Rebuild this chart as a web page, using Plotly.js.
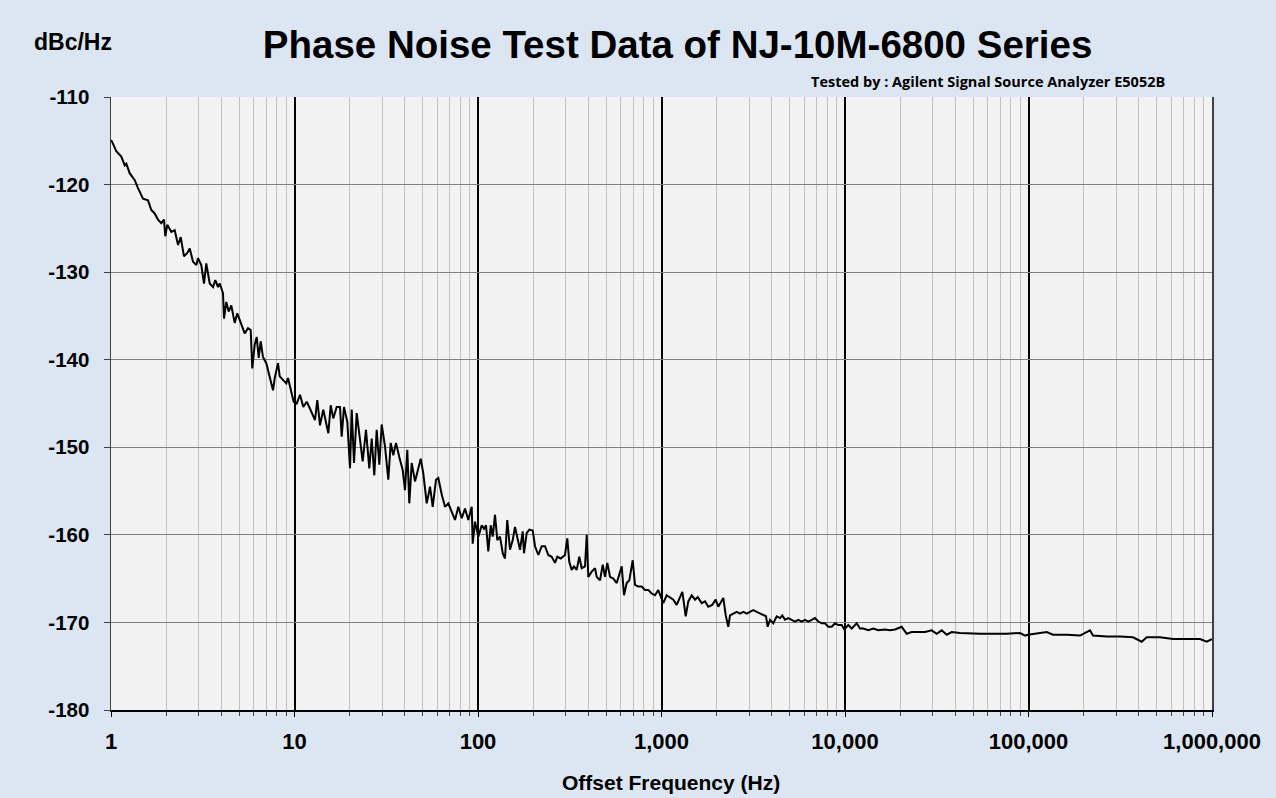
<!DOCTYPE html>
<html>
<head>
<meta charset="utf-8">
<script src="https://cdn.plot.ly/plotly-3.0.1.min.js"></script>
<style>
  html, body { margin: 0; padding: 0; background: #dce6f2; }
  #chart { width: 1276px; height: 798px; }
</style>
</head>
<body>
<div id="chart"></div>
<script>
// Offset frequency (Hz)
const offsetFreqHz = [
  1.0, 1.013, 1.069, 1.138, 1.188, 1.212, 1.264, 1.347, 1.403, 1.494, 1.591, 1.658, 1.730, 1.804, 1.880, 1.945, 1.976,
  2.026, 2.131, 2.224, 2.318, 2.398, 2.500, 2.605, 2.685, 2.799, 2.917, 2.979, 3.105, 3.212, 3.306, 3.451, 3.597,
  3.702, 3.830, 3.912, 4.077, 4.128, 4.249, 4.379, 4.524, 4.721, 4.878, 5.130, 5.354, 5.580, 5.772, 5.888, 6.068,
  6.223, 6.381, 6.544, 6.735, 7.020, 7.327, 7.636, 7.801, 8.130, 8.305, 8.659, 9.022, 9.218, 9.535,
  9.90, 10.28, 10.71, 11.17, 11.66, 12.15, 12.93, 13.31, 13.77, 14.35, 15.29, 15.75, 16.27, 16.98, 17.70, 18.08,
  18.61, 19.40, 20.07, 20.50, 21.10, 21.83, 22.75, 23.53, 24.52, 25.56, 26.35, 27.22, 28.05, 28.98, 29.87, 31.13,
  32.45, 33.44, 34.54, 35.73, 37.24, 38.87, 40.01, 41.18, 42.23, 43.52, 45.37, 47.29, 48.74, 50.35, 52.54, 54.77,
  56.65, 59.04, 60.78, 63.43, 66.11, 68.90, 71.92, 74.94, 78.11, 81.51, 84.96, 88.55, 92.42,
  93.57, 96.31, 100.4, 104.8, 107.8, 110.6, 113.8, 117.3, 120.3, 123.8, 127.4, 131.8, 136.4, 140.3, 144.4, 149.4,
  154.6, 159.1, 163.8, 169.4, 175.3, 178.1, 184.2, 190.4, 198.7, 204.5, 213.2, 222.4, 231.8, 241.6, 252.1, 262.8,
  270.5, 282.3, 297.9, 306.6, 314.4, 324.0, 333.6, 345.1, 356.5, 367.4, 383.0, 391.3, 399.2, 416.6, 434.2, 443.6,
  462.4, 478.3, 492.3, 506.7, 524.2, 546.4, 570.2, 588.8, 607.0, 624.8, 646.3, 667.7, 696.7, 717.2, 747.5, 780.1,
  813.0, 847.4, 884.3, 921.7, 960.7, 993.8,
  1023, 1067, 1113, 1160, 1210, 1261, 1299, 1355, 1400, 1461, 1523, 1575, 1656, 1727, 1799, 1891, 1974, 2039,
  2110, 2172, 2239, 2312, 2362, 2462, 2569, 2678, 2792, 2913, 3036, 3164, 3303, 3442, 3588, 3711, 3791, 3902,
  4067, 4245, 4425, 4554, 4710, 4909, 5122, 5340, 5566, 5808, 6053, 6310, 6583, 6862, 7153, 7464, 7780, 8110,
  8463, 8822, 9195, 9594, 9913,
  10420, 10880, 11580, 12070, 12580, 13400, 14270, 15190, 16520, 17590, 18730, 20370, 21690, 23100, 25090, 27290,
  29690, 31600, 33650, 35830, 38150, 42340, 54410, 64060, 76060, 89880, 95700, 99380,
  125700, 136000, 161500, 190900, 216300, 224600, 266800, 315100, 371100, 414000, 440700, 520800, 613200, 728000,
  860300, 935700, 975200, 1000000
];

// Phase noise (dBc/Hz)
const phaseNoiseDbc = [
  -114.9, -115.1, -116.2, -116.8, -117.8, -117.6, -118.7, -119.5, -120.4, -121.6, -121.8, -122.9, -123.3, -124.0, -124.4, -124.0, -125.9,
  -124.6, -125.4, -125.2, -126.9, -126.0, -128.2, -127.8, -127.3, -128.8, -129.2, -128.4, -129.2, -131.3, -129.0, -131.3, -131.7,
  -130.9, -131.7, -131.3, -132.4, -135.3, -133.4, -134.5, -133.8, -135.8, -134.7, -136.0, -137.0, -136.4, -136.6, -141.0, -138.3,
  -137.4, -139.8, -137.9, -139.7, -140.4, -141.9, -143.5, -142.1, -140.4, -141.9, -142.3, -142.7, -142.1, -143.3,
  -144.8, -145.0, -144.0, -145.4, -144.8, -145.6, -146.9, -144.6, -147.5, -145.7, -148.4, -145.2, -146.7, -145.4, -145.4, -148.8,
  -145.4, -147.1, -152.4, -145.7, -151.8, -146.1, -149.0, -151.6, -148.0, -152.4, -149.0, -153.2, -148.0, -152.0, -147.4, -149.9,
  -153.7, -149.5, -150.9, -149.5, -151.1, -152.6, -154.9, -150.3, -156.4, -151.8, -153.9, -152.2, -151.3, -153.0, -156.4, -154.5,
  -156.8, -153.7, -153.5, -155.4, -156.8, -156.4, -157.5, -158.3, -156.8, -158.1, -157.0, -158.3, -156.8,
  -161.0, -158.5, -160.2, -158.9, -159.3, -158.9, -161.9, -158.9, -160.2, -157.7, -160.6, -160.2, -162.1, -162.7, -158.3, -161.7,
  -160.6, -159.1, -160.2, -161.7, -159.6, -162.1, -159.8, -159.4, -159.5, -161.3, -162.3, -161.3, -161.3, -162.3, -162.5, -163.2,
  -162.5, -162.7, -162.3, -160.4, -163.1, -164.0, -163.6, -164.0, -162.5, -163.8, -163.6, -160.0, -164.8, -164.2, -163.8, -164.8,
  -165.2, -163.4, -164.8, -163.2, -164.8, -165.0, -165.5, -164.4, -163.6, -166.9, -165.5, -165.2, -162.9, -165.7, -165.9, -165.9,
  -166.3, -166.3, -166.7, -166.9, -166.3, -167.1,
  -167.8, -166.9, -167.2, -167.4, -168.0, -167.2, -166.5, -169.3, -167.6, -166.9, -167.4, -167.1, -167.8, -167.6, -168.2, -168.0, -167.4, -168.2,
  -167.6, -167.2, -169.2, -170.5, -169.2, -169.0, -168.8, -169.0, -168.8, -169.0, -168.8, -168.6, -168.8, -169.0, -169.2, -169.3, -170.5, -169.7,
  -170.1, -169.3, -169.5, -169.2, -169.7, -169.5, -169.7, -169.9, -169.7, -169.9, -169.7, -169.9, -169.7, -169.5, -169.9, -170.1, -170.1, -170.5,
  -170.5, -170.1, -170.3, -170.3, -170.8,
  -170.3, -170.7, -170.1, -170.7, -170.7, -170.9, -170.7, -170.9, -170.8, -170.9, -170.8, -170.5, -171.3, -171.1, -171.1, -171.1,
  -170.9, -171.3, -170.9, -171.4, -171.1, -171.2, -171.3, -171.3, -171.3, -171.2, -171.5, -171.4,
  -171.1, -171.4, -171.4, -171.5, -170.9, -171.5, -171.6, -171.6, -171.7, -172.2, -171.7, -171.7, -171.9, -171.9,
  -171.9, -172.2, -172.0, -171.9
];

const xTickVals = [1, 10, 100, 1000, 10000, 100000, 1000000];
const xTickText = ['1', '10', '100', '1,000', '10,000', '100,000', '1,000,000'];
const yTickVals = [-180, -170, -160, -150, -140, -130, -120, -110];
const yTickText = ['-180', '-170', '-160', '-150', '-140', '-130', '-120', '-110'];

const chartTitle = 'Phase Noise Test Data of NJ-10M-6800 Series';
const unitLabel = 'dBc/Hz';
const testedBy = 'Tested by : Agilent Signal Source Analyzer E5052B';
const xTitle = 'Offset Frequency (Hz)';

const FONT = 'Liberation Sans, Arial, sans-serif';

const trace = {
  x: offsetFreqHz,
  y: phaseNoiseDbc,
  type: 'scatter',
  mode: 'lines',
  line: { color: '#000000', width: 2 },
  hoverinfo: 'x+y'
};

const layout = {
  width: 1276,
  height: 798,
  paper_bgcolor: '#dce6f2',
  plot_bgcolor: '#f2f2f2',
  margin: { l: 111, r: 64, t: 97, b: 88, pad: 0 },
  showlegend: false,
  title: {
    text: '<b>' + chartTitle + '</b>',
    font: { family: FONT, size: 38.5, color: '#000000' },
    x: 0.531, xanchor: 'center', xref: 'container',
    y: 0.944, yanchor: 'middle', yref: 'container'
  },
  xaxis: {
    type: 'log',
    range: [0, 6],
    tickmode: 'array',
    tickvals: xTickVals,
    ticktext: xTickText,
    showgrid: true,
    gridcolor: '#000000',
    gridwidth: 2,
    ticks: 'outside',
    ticklen: 5,
    tickcolor: '#000000',
    ticklabelstandoff: 6,
    showline: true,
    linecolor: '#000000',
    linewidth: 1.5,
    zeroline: false,
    tickfont: { family: FONT, size: 22, color: '#000000', weight: 'bold' },
    minor: {
      dtick: 'D1',
      showgrid: true,
      gridcolor: '#c0c0c0',
      gridwidth: 1,
      ticks: 'outside',
      ticklen: 4,
      tickcolor: '#404040'
    }
  },
  yaxis: {
    range: [-180, -110],
    tickmode: 'array',
    tickvals: yTickVals,
    ticktext: yTickText,
    showgrid: true,
    gridcolor: '#808080',
    gridwidth: 1.2,
    ticks: 'outside',
    ticklen: 6,
    tickcolor: '#404040',
    ticklabelstandoff: 10,
    showline: true,
    linecolor: '#404040',
    linewidth: 1.5,
    mirror: true,
    zeroline: false,
    tickfont: { family: FONT, size: 20.5, color: '#000000', weight: 'bold' }
  },
  annotations: [
    {
      text: '<b>' + unitLabel + '</b>',
      xref: 'paper', yref: 'paper',
      x: -0.0718, y: 1.0897,
      xanchor: 'left', yanchor: 'middle',
      showarrow: false,
      font: { family: FONT, size: 23, color: '#000000' }
    },
    {
      text: '<b>' + testedBy + '</b>',
      xref: 'paper', yref: 'paper',
      x: 0.959, y: 1.0245,
      xanchor: 'right', yanchor: 'middle',
      showarrow: false,
      font: { family: 'Open Sans, Noto Sans, sans-serif', size: 14.5, color: '#000000' }
    },
    {
      text: '<b>' + xTitle + '</b>',
      xref: 'paper', yref: 'paper',
      x: 0.5086, y: -0.118,
      xanchor: 'center', yanchor: 'middle',
      showarrow: false,
      font: { family: FONT, size: 21, color: '#000000' }
    }
  ]
};

Plotly.newPlot('chart', [trace], layout, { displayModeBar: false, staticPlot: true });
</script>
</body>
</html>
